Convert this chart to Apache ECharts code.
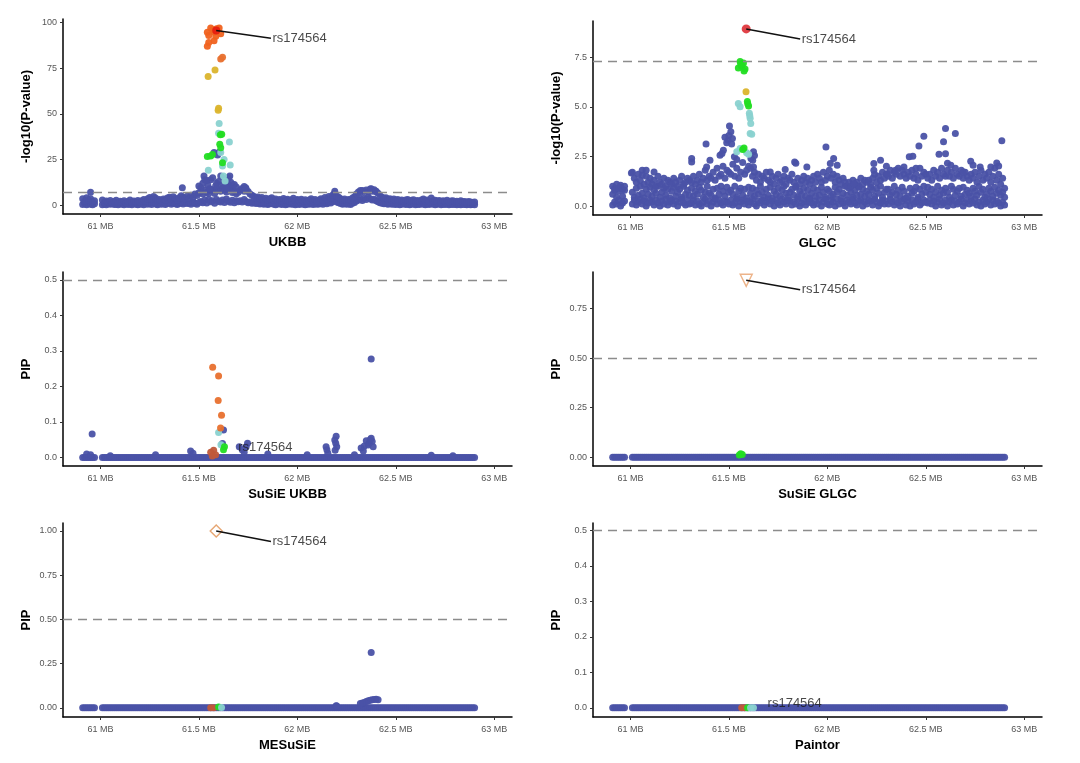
<!DOCTYPE html>
<html>
<head>
<meta charset="UTF-8">
<title>rs174564 fine-mapping</title>
<script src="https://cdn.jsdelivr.net/npm/echarts@6/dist/echarts.min.js"></script>
<style>html,body{margin:0;padding:0;background:#fff;}</style>
</head>
<body>
<div id="main" style="width:1080px;height:763px;"></div>
<script>
// SNP positions (MB) shared by all panels
const snpPos = [
  60.91,60.92,60.93,60.94,60.95,60.96,60.97,
  61.01,61.02,61.03,61.04,61.05,61.06,61.07,61.08,61.09,61.10,
  61.11,61.12,61.13,61.14,61.15,61.16,61.17,61.18,61.19,61.20,
  61.21,61.22,61.23,61.24,61.25,61.26,61.27,61.28,61.29,61.30,
  61.31,61.32,61.33,61.34,61.35,61.36,61.37,61.38,61.39,61.40,
  61.41,61.42,61.43,61.44,61.45,61.46,61.47,61.48,61.49,61.50,
  61.51,61.52,61.53,61.54,61.55,61.56,61.57,61.58,61.59,61.60,
  61.61,61.62,61.63,61.64,61.65,61.66,61.67,61.68,61.69,61.70,
  61.71,61.72,61.73,61.74,61.75,61.76,61.77,61.78,61.79,61.80,
  61.81,61.82,61.83,61.84,61.85,61.86,61.87,61.88,61.89,61.90,
  61.91,61.92,61.93,61.94,61.95,61.96,61.97,61.98,61.99,62.00,
  62.01,62.02,62.03,62.04,62.05,62.06,62.07,62.08,62.09,62.10,
  62.11,62.12,62.13,62.14,62.15,62.16,62.17,62.18,62.19,62.20,
  62.21,62.22,62.23,62.24,62.25,62.26,62.27,62.28,62.29,62.30,
  62.31,62.32,62.33,62.34,62.35,62.36,62.37,62.38,62.39,62.40,
  62.41,62.42,62.43,62.44,62.45,62.46,62.47,62.48,62.49,62.50,
  62.51,62.52,62.53,62.54,62.55,62.56,62.57,62.58,62.59,62.60,
  62.61,62.62,62.63,62.64,62.65,62.66,62.67,62.68,62.69,62.70,
  62.71,62.72,62.73,62.74,62.75,62.76,62.77,62.78,62.79,62.80,
  62.81,62.82,62.83,62.84,62.85,62.86,62.87,62.88,62.89,62.90
];

const xTicks = [61, 61.5, 62, 62.5, 63];
const leadName = 'rs174564';

// UKBB -log10(P)
const ukbbLow = [
  0.4,0.9,0.2,1.1,0.6,0.3,0.8,
  0.3,0.7,0.2,0.9,0.5,1.0,0.4,0.6,0.2,0.8,
  0.5,0.2,0.9,0.4,0.7,0.3,1.1,0.5,0.2,0.6,
  0.8,0.3,1.2,0.5,0.9,0.4,1.3,0.7,0.3,1.0,
  0.6,1.1,0.4,0.9,1.4,0.5,1.2,0.8,0.4,1.0,
  1.3,0.7,1.6,0.9,1.2,0.5,1.8,1.1,0.6,1.5,
  2.1,1.4,2.8,1.2,3.3,1.9,2.5,1.1,3.1,2.2,
  1.8,2.9,1.5,3.4,2.2,1.6,2.7,1.3,2.4,1.9,
  2.5,1.7,3.2,2.1,1.4,1.8,1.1,1.5,0.9,1.2,
  0.7,1.1,0.5,0.9,0.4,0.8,1.2,0.6,0.3,0.7,
  0.9,0.4,0.8,0.3,0.6,1.0,0.5,0.7,0.2,0.8,
  0.4,0.9,0.6,0.3,0.7,0.5,1.0,0.4,0.8,0.6,
  0.7,1.1,0.5,1.4,0.8,1.6,1.2,2.1,2.6,1.7,
  1.3,0.9,0.6,1.0,0.5,0.8,0.4,1.1,1.5,2.3,
  2.9,3.4,2.6,3.8,3.1,4.2,3.5,2.8,3.3,2.4,
  1.9,1.4,1.1,0.8,1.0,0.6,0.9,0.5,0.7,0.4,
  0.8,0.3,0.6,0.9,0.4,0.7,0.2,0.5,0.8,0.3,
  0.6,0.4,0.9,0.5,0.3,0.7,0.4,1.0,0.6,0.3,
  0.5,0.8,0.3,0.6,0.4,0.7,0.2,0.5,0.4,0.6,
  0.3,0.5,0.2,0.6,0.4,0.3,0.5,0.2,0.4,0.3
];
const ukbbHigh = [
  3.5,2.2,4.1,2.8,3.6,1.9,2.4,
  2.9,1.6,2.3,1.8,2.6,1.4,2.1,2.7,1.5,2.2,
  1.8,2.5,1.3,2.0,2.8,1.6,2.3,1.9,2.6,1.7,
  2.4,3.1,2.2,3.6,4.2,3.3,4.8,3.9,2.7,3.2,
  2.5,3.4,2.8,3.9,4.4,3.1,4.6,3.7,2.9,4.1,
  5.2,4.3,3.6,4.9,3.8,5.5,4.2,6.1,5.3,6.8,
  7.4,6.2,8.3,7.1,6.6,8.8,7.9,6.4,9.2,8.1,
  7.6,9.4,8.2,7.3,10.1,8.6,6.9,7.8,6.3,7.1,
  8.4,9.1,10.2,8.7,7.5,6.2,5.4,4.8,3.9,4.5,
  3.6,4.2,3.1,3.8,2.9,3.5,4.1,2.8,3.4,2.6,
  3.2,2.5,3.7,2.9,3.3,2.4,3.0,3.8,2.7,3.1,
  2.6,3.3,2.4,3.0,2.2,2.8,3.5,2.5,3.1,2.3,
  2.9,3.6,2.7,4.2,3.4,4.8,3.9,5.6,6.4,5.1,
  4.3,3.5,2.9,3.4,2.6,3.1,2.8,3.9,4.6,6.2,
  7.3,6.8,8.1,7.5,8.4,7.2,8.9,7.7,8.5,7.4,
  6.5,5.2,4.4,3.8,4.1,3.3,3.6,2.9,3.4,2.7,
  3.1,2.5,2.9,2.3,2.8,3.2,2.4,2.7,3.0,2.2,
  2.6,2.1,2.9,3.4,2.5,2.8,2.0,3.9,2.4,2.7,
  2.2,2.6,1.9,2.4,2.1,2.7,1.8,2.3,2.5,1.9,
  2.2,1.7,2.4,1.9,2.1,1.6,2.0,1.8,1.5,1.7
];
const ukbbPeakBlue = [
  [61.577,28.8],[61.603,29.0],[61.595,27.5],[61.526,16.0],[61.530,14.0],[61.611,16.0],
  [61.657,16.0],[61.662,12.6],[61.560,14.0],[61.416,9.5],[61.738,9.5],[61.730,7.7],
  [60.950,7.1],[62.190,7.7],[62.320,8.0],[62.375,9.0],[62.400,7.7],[61.662,10.4],
  [61.510,9.5],[61.680,11.4],[61.590,12.0],[61.545,11.0],[61.520,12.0],[61.540,13.5],
  [61.570,15.0],[61.600,13.0],[61.630,14.5],[61.645,12.0],[61.650,15.0],[61.670,11.0],
  [61.690,10.0],[61.500,10.5],[61.585,10.5],[61.615,11.0],[61.555,9.0],[61.640,9.5]
];
const ukbbCyan = [
  [61.603,44.7],[61.600,39.4],[61.655,34.6],[61.611,28.8],[61.628,25.0],[61.620,21.4],
  [61.659,22.0],[61.548,19.2],[61.625,16.0],[61.633,13.2]
];
const ukbbGreen = [
  [61.616,38.8],[61.609,38.5],[61.606,33.3],[61.611,31.5],[61.543,26.6],[61.569,27.8],
  [61.560,26.9],[61.620,23.3]
];
const ukbbGold = [[61.582,74.0],[61.547,70.5],[61.600,53.0],[61.598,52.0]];
const ukbbOrange = [[61.620,81.0],[61.611,80.0]];
const ukbbTop = [
  [61.560,97.0],[61.603,97.0],[61.543,94.7],[61.577,94.7],[61.550,92.9],[61.586,92.5],
  [61.577,90.0],[61.550,89.0],[61.543,87.0],[61.611,93.8],[61.590,96.5],[61.570,96.0]
];
const ukbbLead = [61.588, 95.6];

// GLGC -log10(P)
const glgcLow = [
  0.05,0.2,0.1,0.3,0.0,0.15,0.25,
  0.1,0.3,0.05,0.2,0.35,0.1,0.25,0.0,0.15,0.3,
  0.2,0.05,0.3,0.15,0.0,0.25,0.1,0.35,0.05,0.2,
  0.3,0.1,0.25,0.0,0.2,0.35,0.15,0.05,0.3,0.1,
  0.15,0.3,0.05,0.25,0.1,0.0,0.2,0.35,0.1,0.25,
  0.0,0.2,0.35,0.1,0.3,0.15,0.05,0.25,0.2,0.1,
  0.3,0.05,0.15,0.35,0.0,0.2,0.3,0.1,0.25,0.05,
  0.2,0.35,0.1,0.0,0.25,0.15,0.3,0.05,0.2,0.35,
  0.1,0.25,0.0,0.3,0.15,0.05,0.35,0.2,0.1,0.3,
  0.25,0.05,0.2,0.1,0.35,0.0,0.15,0.3,0.05,0.2,
  0.35,0.15,0.05,0.25,0.1,0.3,0.0,0.2,0.35,0.1,
  0.05,0.3,0.2,0.0,0.35,0.1,0.25,0.15,0.0,0.3,
  0.2,0.1,0.35,0.15,0.05,0.25,0.3,0.0,0.2,0.1,
  0.3,0.25,0.05,0.35,0.2,0.0,0.15,0.3,0.1,0.25,
  0.1,0.35,0.2,0.05,0.3,0.15,0.0,0.25,0.35,0.05,
  0.25,0.0,0.3,0.1,0.2,0.35,0.05,0.15,0.3,0.2,
  0.15,0.3,0.1,0.25,0.0,0.2,0.35,0.05,0.15,0.3,
  0.0,0.2,0.3,0.05,0.25,0.1,0.2,0.35,0.0,0.15,
  0.3,0.1,0.25,0.15,0.35,0.05,0.2,0.0,0.3,0.1,
  0.2,0.35,0.05,0.3,0.1,0.25,0.15,0.0,0.2,0.05
];
const glgcMid = [
  0.6,0.9,0.45,0.75,0.95,0.5,0.8,
  0.7,0.45,0.9,0.55,1.0,0.65,0.4,0.85,0.6,0.95,
  0.5,0.8,0.65,1.0,0.45,0.7,0.9,0.55,0.85,0.4,
  0.75,0.95,0.5,0.7,0.85,0.45,1.0,0.6,0.8,0.55,
  0.9,0.5,0.75,0.6,0.95,0.8,0.45,0.7,1.0,0.65,
  0.55,0.85,0.4,0.9,0.6,1.0,0.75,0.5,0.95,0.7,
  0.8,0.6,1.0,0.45,0.75,0.9,0.55,0.85,0.4,0.95,
  0.65,0.9,0.5,0.8,0.6,1.0,0.7,0.45,0.85,0.55,
  0.95,0.4,0.75,0.6,0.9,0.5,0.8,1.0,0.65,0.45,
  0.7,0.85,0.55,0.95,0.45,0.75,0.6,0.9,0.5,0.8,
  0.4,0.65,0.9,0.5,0.8,0.55,0.95,0.7,0.45,0.85,
  0.75,0.5,0.6,0.95,0.7,0.85,0.4,0.65,1.0,0.55,
  0.9,0.7,0.45,0.8,0.55,0.95,0.6,0.85,0.5,0.75,
  0.6,0.95,0.8,0.5,0.9,0.65,1.0,0.45,0.7,0.85,
  0.85,0.55,0.7,1.0,0.6,0.8,0.5,0.95,0.75,0.4,
  0.5,0.9,0.65,0.75,0.95,0.45,0.85,0.6,1.0,0.7,
  0.95,0.6,0.85,0.45,0.7,1.0,0.55,0.8,0.65,0.9,
  0.7,0.45,1.0,0.85,0.55,0.75,0.9,0.5,0.95,0.6,
  0.8,0.65,0.5,0.9,0.75,0.55,1.0,0.7,0.85,0.45,
  0.6,0.9,0.75,0.5,0.95,0.65,0.8,0.55,0.7,0.45
];
const glgcHigh = [
  1.0,0.8,1.1,0.9,1.05,0.85,1.0,
  1.7,1.4,1.2,1.6,1.3,1.8,1.1,1.5,1.2,1.4,
  1.1,1.3,1.0,1.5,1.2,1.1,1.4,1.0,1.3,1.2,
  1.1,1.4,1.2,1.0,1.3,1.5,1.1,1.2,1.4,1.3,
  1.2,1.5,1.1,1.3,1.6,1.2,1.4,1.8,1.3,1.5,
  1.4,1.7,1.3,1.9,1.5,1.6,2.0,1.4,1.8,1.7,
  1.6,2.1,1.5,1.9,1.4,1.7,2.2,1.6,1.8,2.0,
  1.9,1.5,1.7,1.3,1.6,1.2,1.5,1.4,1.7,1.3,
  1.2,1.5,1.1,1.4,1.6,1.2,1.3,1.5,1.1,1.4,
  1.3,1.6,1.2,1.0,1.4,1.1,1.3,1.5,1.2,1.4,
  1.1,1.3,1.5,1.2,1.6,1.4,1.2,1.7,1.3,1.5,
  1.8,1.4,1.6,1.2,1.5,1.3,1.1,1.4,1.2,1.0,
  1.2,1.0,1.3,1.1,1.2,1.0,1.4,1.1,1.3,1.2,
  1.3,1.1,1.4,1.6,1.2,1.5,1.3,1.7,1.4,1.6,
  1.5,1.8,1.4,1.7,1.6,1.9,1.5,1.8,1.6,1.4,
  1.7,1.5,1.8,1.4,1.6,1.3,1.9,1.5,1.7,1.6,
  1.4,1.6,1.3,1.8,1.5,1.7,1.4,1.9,1.6,1.5,
  1.8,1.5,1.7,1.4,1.9,1.6,1.5,1.8,1.4,1.7,
  1.5,1.3,1.6,1.4,1.7,1.2,1.5,1.8,1.3,1.6,
  1.4,1.7,1.2,1.5,1.9,1.3,1.6,1.1,1.4,0.9
];
const glgcScatter = [
  [61.503,4.03],[61.510,3.74],[61.480,3.46],[61.496,3.32],[61.489,3.19],[61.514,3.12],
  [61.472,2.81],[61.384,3.12],[61.455,2.56],[61.528,2.48],[61.625,2.73],[61.621,2.31],
  [61.387,1.97],[61.404,2.31],[61.311,2.39],[61.311,2.22],[61.993,2.98],[62.032,2.39],
  [62.015,2.14],[61.834,2.22],[61.840,2.15],[62.490,3.52],[62.465,3.02],[62.600,3.90],
  [62.590,3.24],[62.650,3.66],[62.886,3.29],[62.434,2.51],[62.416,2.48],[62.270,2.31],
  [62.236,2.14],[62.567,2.61],[62.600,2.64],[62.728,2.26],[62.860,2.17],[62.830,1.97],
  [62.690,1.72],[61.005,1.67],[61.080,1.80],[61.120,1.72],[61.060,1.55],[61.625,1.97],
  [61.710,1.72],[61.786,1.84],[61.896,1.97],[62.134,1.13],[62.236,1.80],[62.304,1.63],
  [62.346,1.80],[62.389,1.97],[62.627,2.06],[62.776,1.97],[61.500,3.55],[61.518,3.40],
  [61.465,2.65],[61.540,2.35],[61.630,2.55],[61.612,2.40],[62.050,2.05],[62.610,2.15],
  [62.740,2.05],[62.870,2.02],[62.450,1.90],[62.300,2.00]
];
const glgcCyan = [
  [61.548,5.17],[61.557,5.00],[61.604,4.67],[61.606,4.55],[61.608,4.42],[61.611,4.16],
  [61.608,3.66],[61.616,3.62],[61.557,2.90],[61.540,2.73],[61.590,2.68],[61.600,2.61]
];
const glgcGreen = [
  [61.557,7.28],[61.574,7.20],[61.548,6.95],[61.582,6.90],[61.565,7.05],[61.560,7.15],
  [61.577,6.80],[61.594,5.26],[61.600,5.04],[61.596,5.15],[61.577,2.93],[61.570,2.85]
];
const glgcGold = [[61.587,5.76]];
const glgcLead = [61.588, 8.92];

// SuSiE UKBB PIP (all other SNPs at 0)
const susieUkbbBlue = [
  [60.958,0.066],[62.375,0.277],[62.197,0.060],[62.190,0.049],[62.146,0.030],[62.150,0.022],
  [62.350,0.047],[62.375,0.054],[62.365,0.040],[62.324,0.027],[62.340,0.032],[62.380,0.045],
  [62.360,0.035],[61.747,0.040],[61.705,0.030],[61.720,0.022],[61.458,0.018],[61.470,0.012],
  [61.625,0.077],[61.620,0.039],[61.280,0.008],[61.050,0.005],[61.850,0.010],[62.050,0.008],
  [62.290,0.008],[62.680,0.006],[62.790,0.005],[60.930,0.010],[60.950,0.008],
  [62.195,0.040],[62.200,0.030],[62.192,0.020],[62.155,0.012],[62.370,0.050],[62.385,0.030],
  [62.335,0.018],[61.740,0.030],[61.730,0.015]
];
const susieUkbbOrange = [[61.570,0.254],[61.600,0.229],[61.598,0.160],[61.615,0.119],[61.610,0.083]];
const susieUkbbCyan = [[61.600,0.070],[61.612,0.036]];
const susieUkbbGreen = [[61.630,0.030],[61.625,0.022]];
const susieUkbbRed = [[61.560,0.015],[61.575,0.020],[61.585,0.008],[61.568,0.004]];

// SuSiE GLGC PIP
const susieGlgcGreen = [[61.560,0.018],[61.553,0.012],[61.568,0.014]];
const susieGlgcLead = [61.588, 0.893];

// MESuSiE PIP
const mesusieBlue = [
  [62.375,0.313],[62.400,0.049],[62.390,0.047],[62.380,0.045],[62.370,0.043],[62.360,0.040],
  [62.350,0.036],[62.340,0.030],[62.330,0.027],[62.320,0.025],[62.410,0.045],[62.197,0.012],
  [62.200,0.010]
];
const mesusieRed = [[61.560,0.0],[61.575,0.0]];
const mesusieGreen = [[61.600,0.004]];
const mesusieCyan = [[61.615,0.002]];
const mesusieLead = [61.588, 1.0];

// Paintor PIP
const paintorRed = [[61.565,0.0],[61.580,0.0]];
const paintorGreen = [[61.595,0.0]];
const paintorCyan = [[61.610,0.0],[61.625,0.0]];

// colours
const BLUE = '#4a52a6', CYAN = '#8ad2d0', GREEN = '#22dd22', GOLD = '#dbb42c',
      ORANGE = '#e8702e', TOP = '#f0621f', RED = '#e3120b', BROWN = '#c0583a';

function rows() {
  const out = [];
  for (const vals of arguments) {
    vals.forEach((v, i) => { if (i < snpPos.length) out.push([snpPos[i], v]); });
  }
  return out;
}
const zeroRow = snpPos.map(x => [x, 0]);

const panels = [
  { name: 'UKBB', yName: '-log10(P-value)', rect: [63, 19, 449, 195], y: [-4.8, 101.9],
    yTicks: [0, 25, 50, 75, 100], dec: 0, thr: 7.3,
    base: rows(ukbbLow, ukbbHigh).concat(ukbbPeakBlue),
    groups: [[ukbbCyan, CYAN], [ukbbGreen, GREEN], [ukbbGold, GOLD], [ukbbOrange, ORANGE], [ukbbTop, TOP]],
    lead: { pt: ukbbLead, symbol: 'circle', size: 8, fill: RED },
    label: [61.866, 91.4], line: true },
  { name: 'GLGC', yName: '-log10(P-value)', rect: [593, 21, 449, 194], y: [-0.45, 9.32],
    yTicks: [0, 2.5, 5, 7.5], dec: 1, thr: 7.3,
    base: rows(glgcLow, glgcMid, glgcHigh).concat(glgcScatter),
    groups: [[glgcCyan, CYAN], [glgcGreen, GREEN], [glgcGold, GOLD]],
    lead: { pt: glgcLead, symbol: 'circle', size: 9, fill: '#d9141b' },
    label: [61.862, 8.41], line: true },
  { name: 'SuSiE UKBB', yName: 'PIP', rect: [63, 272, 449, 194], y: [-0.024, 0.522],
    yTicks: [0, 0.1, 0.2, 0.3, 0.4, 0.5], dec: 1, thr: 0.5,
    base: zeroRow.concat(susieUkbbBlue),
    groups: [[susieUkbbRed, BROWN], [susieUkbbCyan, CYAN], [susieUkbbGreen, GREEN], [susieUkbbOrange, ORANGE]],
    lead: null, label: [61.692, 0.029], line: false },
  { name: 'SuSiE GLGC', yName: 'PIP', rect: [593, 272, 449, 194], y: [-0.044, 0.935],
    yTicks: [0, 0.25, 0.5, 0.75], dec: 2, thr: 0.5,
    base: zeroRow,
    groups: [[susieGlgcGreen, GREEN]],
    lead: { pt: susieGlgcLead, symbol: 'triangle', rotate: 180, size: 12, fill: '#fff', border: '#e8a06c' },
    label: [61.862, 0.846], line: true },
  { name: 'MESuSiE', yName: 'PIP', rect: [63, 523, 449, 194], y: [-0.052, 1.045],
    yTicks: [0, 0.25, 0.5, 0.75, 1], dec: 2, thr: 0.5,
    base: zeroRow.concat(mesusieBlue),
    groups: [[mesusieRed, BROWN], [mesusieGreen, GREEN], [mesusieCyan, CYAN]],
    lead: { pt: mesusieLead, symbol: 'diamond', size: 12, fill: '#fff', border: '#e09050' },
    label: [61.866, 0.941], line: true },
  { name: 'Paintor', yName: 'PIP', rect: [593, 523, 449, 194], y: [-0.026, 0.521],
    yTicks: [0, 0.1, 0.2, 0.3, 0.4, 0.5], dec: 1, thr: 0.5,
    base: zeroRow,
    groups: [[paintorRed, BROWN], [paintorGreen, GREEN], [paintorCyan, CYAN]],
    lead: null, label: [61.689, 0.013], line: false }
];

const FONT = 'Liberation Sans';
const grids = [], xAxes = [], yAxes = [], series = [];

panels.forEach((p, i) => {
  grids.push({ left: p.rect[0], top: p.rect[1], width: p.rect[2], height: p.rect[3] });
  xAxes.push({
    type: 'value', gridIndex: i, min: 60.81, max: 63.09,
    name: p.name, nameLocation: 'middle', nameGap: 22,
    nameTextStyle: { fontFamily: FONT, fontSize: 13, fontWeight: 'bold', color: '#000' },
    axisLine: { onZero: false, lineStyle: { color: '#000', width: 1.5 } },
    axisTick: { customValues: xTicks, length: 3, lineStyle: { color: '#333', width: 1 } },
    axisLabel: { customValues: xTicks, margin: 8, fontFamily: FONT, fontSize: 9, color: '#555',
                 formatter: v => v + ' MB' },
    splitLine: { show: false }
  });
  yAxes.push({
    type: 'value', gridIndex: i, min: p.y[0], max: p.y[1],
    name: p.yName, nameLocation: 'middle', nameGap: 30, nameRotate: 90,
    nameTextStyle: { fontFamily: FONT, fontSize: 13, fontWeight: 'bold', color: '#000' },
    axisLine: { onZero: false, lineStyle: { color: '#000', width: 1.5 } },
    axisTick: { customValues: p.yTicks, length: 3, lineStyle: { color: '#333', width: 1 } },
    axisLabel: { customValues: p.yTicks, margin: 6, fontFamily: FONT, fontSize: 9, color: '#555',
                 formatter: v => v.toFixed(p.dec) },
    splitLine: { show: false }
  });
  series.push({
    type: 'scatter', xAxisIndex: i, yAxisIndex: i, data: p.base, symbolSize: 7,
    itemStyle: { color: BLUE, opacity: 0.95 }, silent: true,
    markLine: {
      silent: true, symbol: ['none', 'none'], label: { show: false },
      lineStyle: { color: '#8c8c8c', width: 1.4, type: [9, 6] },
      data: [{ yAxis: p.thr }]
    }
  });
  p.groups.forEach(g => {
    series.push({
      type: 'scatter', xAxisIndex: i, yAxisIndex: i, data: g[0], symbolSize: 7,
      itemStyle: { color: g[1], opacity: 0.95 }, silent: true
    });
  });
  if (p.lead) {
    const s = {
      type: 'scatter', xAxisIndex: i, yAxisIndex: i, data: [p.lead.pt],
      symbol: p.lead.symbol, symbolSize: p.lead.size, symbolRotate: p.lead.rotate || 0,
      itemStyle: { color: p.lead.fill, borderColor: p.lead.border || p.lead.fill,
                   borderWidth: p.lead.border ? 1.4 : 0 },
      silent: true, z: 3
    };
    if (p.line) {
      s.markLine = {
        silent: true, symbol: ['none', 'none'], label: { show: false },
        lineStyle: { color: '#111', width: 1.5, type: 'solid' },
        data: [[{ coord: p.lead.pt }, { coord: p.label }]]
      };
    }
    series.push(s);
  }
  series.push({
    type: 'scatter', xAxisIndex: i, yAxisIndex: i, data: [p.label], symbolSize: 1,
    itemStyle: { color: 'rgba(0,0,0,0)' }, silent: true, z: 4,
    label: { show: true, position: 'right', distance: 1, formatter: leadName,
             fontFamily: FONT, fontSize: 13, color: '#1a1a1a' }
  });
});

const chart = echarts.init(document.getElementById('main'));
chart.setOption({
  animation: false,
  backgroundColor: '#fff',
  grid: grids, xAxis: xAxes, yAxis: yAxes, series: series
});
</script>
</body>
</html>
